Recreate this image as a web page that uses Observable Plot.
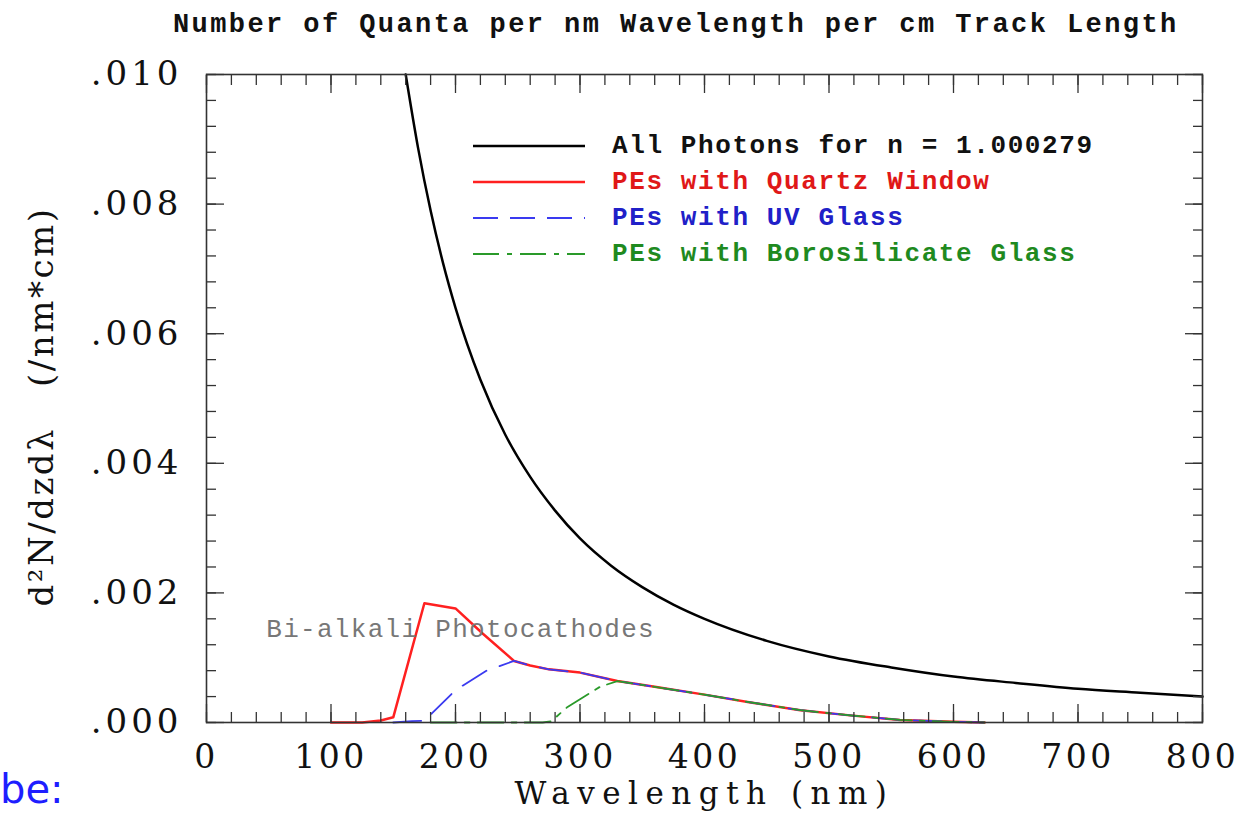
<!DOCTYPE html>
<html><head><meta charset="utf-8">
<script src="https://cdn.jsdelivr.net/npm/d3@7"></script>
<script src="https://cdn.jsdelivr.net/npm/@observablehq/plot@0.6"></script>
<style>
body{margin:0;background:#fff;}
#wrap{position:relative;width:1253px;height:821px;overflow:hidden;background:#fff;}
#title{height:48px;line-height:50px;padding-left:173px;font-family:"Liberation Mono",monospace;font-weight:bold;font-size:27px;letter-spacing:2.42px;color:#111;white-space:pre;}
.leg{position:absolute;left:473px;height:36px;display:flex;align-items:center;font-family:"Liberation Mono",monospace;font-weight:bold;font-size:26px;letter-spacing:1.6px;white-space:pre;}
.leg svg{margin-right:27px;}
#be{position:absolute;left:0;top:766px;font-family:"DejaVu Sans",sans-serif;font-size:40px;color:#1e1eff;}
</style></head>
<body>
<div id="wrap">
  <div id="title">Number of Quanta per nm Wavelength per cm Track Length</div>
  <div id="chart"></div>
  <div id="legend"></div>
  <div id="be">be:</div>
</div>
<script>
// ---- data ----
const allWl   = [160,170,180,190,200,220,240,260,280,300,325,350,375,400,450,500,550,600,650,700,750,800];
const allVal  = [0.0100,0.00886,0.00790,0.00709,0.00640,0.00529,0.00444,0.00379,0.00327,0.00284,0.00242,0.00209,0.00182,0.00160,0.00126,0.00102,0.00085,0.00071,0.00061,0.00052,0.00046,0.00040];

const quartzWl  = [100,125,140,150,175,200,222,247,260,275,300,330];
const quartzVal = [0,0,0.00003,0.00008,0.00184,0.00176,0.00137,0.00095,0.00088,0.00082,0.00077,0.00064];

const uvWl  = [150,165,177,181,200,225,247,260,275,300,330];
const uvVal = [0,0.00002,0.00003,0.00014,0.00050,0.00080,0.00095,0.00088,0.00082,0.00077,0.00064];

const boroWl  = [180,270,277,290,316,330];
const boroVal = [0,0,0.00002,0.00024,0.00055,0.00064];

// common tail shared by the three photoelectron curves
const tailWl  = [360,400,437,477,517,557,600,625];
const tailVal = [0.00055,0.00043,0.00031,0.00019,0.00011,0.00004,0.00001,0];

const seriesNames  = ["All Photons for n = 1.000279","PEs with Quartz Window","PEs with UV Glass","PEs with Borosilicate Glass"];
const seriesColors = ["#000000","#ff2020","#3a3af0","#2a9a2a"];
const textColors   = ["#111111","#e01818","#2020c8","#1f8a1f"];

const xMajorTicks = [0,100,200,300,400,500,600,700,800];
const xMinorTicks = [0,20,40,60,80,100,120,140,160,180,200,220,240,260,280,300,320,340,360,380,400,420,440,460,480,500,520,540,560,580,600,620,640,660,680,700,720,740,760,780,800];
const yMajorTicks = [0,0.002,0.004,0.006,0.008,0.010];
const yMinorTicks = [0,0.0004,0.0008,0.0012,0.0016,0.002,0.0024,0.0028,0.0032,0.0036,0.004,0.0044,0.0048,0.0052,0.0056,0.006,0.0064,0.0068,0.0072,0.0076,0.008,0.0084,0.0088,0.0092,0.0096,0.010];

const annotText = ["Bi-alkali Photocathodes"];
const annotX = [48];
const annotY = [0.00145];

const xLabel = "Wavelength (nm)";
const yLabel = "d²N/dzdλ   (/nm*cm)";

// ---- build tables ----
const toRows = (w, v) => w.map((d, i) => ({wl: d, v: v[i]}));
const allData = toRows(allWl, allVal);
const quartz = toRows(quartzWl.concat(tailWl), quartzVal.concat(tailVal));
const uv = toRows(uvWl.concat(tailWl), uvVal.concat(tailVal));
const boro = toRows(boroWl.concat(tailWl), boroVal.concat(tailVal));
const annot = annotText.map((t, i) => ({t, x: annotX[i], y: annotY[i]}));

const serif = "DejaVu Serif";
const tickStyle = {label: null, tickFormat: () => "", strokeWidth: 1.3, stroke: "#333"};

const plot = Plot.plot({
  width: 1253, height: 773,
  marginLeft: 206, marginRight: 51, marginTop: 26, marginBottom: 99,
  x: {domain: [0, 800], label: null},
  y: {domain: [0, 0.010], label: null},
  style: {background: "transparent", overflow: "visible"},
  marks: [
    Plot.line(allData, {x: "wl", y: "v", stroke: seriesColors[0], strokeWidth: 2.5, curve: "monotone-x"}),
    Plot.line(quartz, {x: "wl", y: "v", stroke: seriesColors[1], strokeWidth: 2.5}),
    Plot.line(uv, {x: "wl", y: "v", stroke: seriesColors[2], strokeWidth: 1.8, strokeDasharray: "28,14"}),
    Plot.line(boro, {x: "wl", y: "v", stroke: seriesColors[3], strokeWidth: 1.8, strokeDasharray: "26,8,5,8"}),
    Plot.text(annot, {x: "x", y: "y", text: "t", textAnchor: "start", fill: "#777", fontSize: 26, fontFamily: "Liberation Mono"}),
    Plot.frame({stroke: "#333", strokeWidth: 1.6}),
    Plot.axisX(xMajorTicks, {anchor: "bottom", tickSize: -18, ...tickStyle}),
    Plot.axisX(xMinorTicks, {anchor: "bottom", tickSize: -10, ...tickStyle}),
    Plot.axisX(xMajorTicks, {anchor: "top", tickSize: -18, ...tickStyle}),
    Plot.axisX(xMinorTicks, {anchor: "top", tickSize: -10, ...tickStyle}),
    Plot.axisY(yMajorTicks, {anchor: "left", tickSize: -18, ...tickStyle}),
    Plot.axisY(yMinorTicks, {anchor: "left", tickSize: -10, ...tickStyle}),
    Plot.axisY(yMajorTicks, {anchor: "right", tickSize: -18, ...tickStyle}),
    Plot.axisY(yMinorTicks, {anchor: "right", tickSize: -10, ...tickStyle}),
    Plot.axisX(xMajorTicks, {anchor: "bottom", tickSize: 0, tickPadding: 22, label: null, fontSize: 33, fontFamily: serif, fill: "#111"}),
    Plot.axisY(yMajorTicks, {anchor: "left", tickSize: 0, tickPadding: 24, label: null, fontSize: 34, fontFamily: serif, fill: "#111",
      tickFormat: d => d.toFixed(3).slice(1)}),
    Plot.text([xLabel], {frameAnchor: "bottom", dy: 81, fontSize: 31, fontFamily: serif, fill: "#111", text: d => d}),
    Plot.text([yLabel], {frameAnchor: "left", textAnchor: "middle", rotate: -90, dx: -164, dy: 8, fontSize: 34, fontFamily: serif, fill: "#111", text: d => d})
  ]
});
document.getElementById("chart").appendChild(plot);

const svg = d3.select(plot);
svg.selectAll("text").filter(function(){ return this.textContent === xLabel; })
  .style("letter-spacing", "7.5px").style("white-space", "pre");
svg.selectAll("text").filter(function(){ return this.textContent === yLabel; })
  .style("letter-spacing", "2.5px").style("white-space", "pre");
svg.selectAll("text").filter(function(){ return /^\.\d{3}$/.test(this.textContent); })
  .style("letter-spacing", "4px");
svg.selectAll("text").filter(function(){ return /^\d{1,3}$/.test(this.textContent); })
  .style("letter-spacing", "3.5px");
svg.selectAll("text").filter(function(){ return this.textContent === annotText[0]; })
  .style("letter-spacing", "1.3px");

// ---- legend ----
const dashes = [null, null, "25,12", "26,8,5,8"];
const widths = [2.5, 2.5, 1.8, 1.8];
const legTops = [128, 164, 200, 236];
const leg = d3.select("#legend");
seriesNames.forEach((name, i) => {
  const row = leg.append("div").attr("class", "leg").style("top", legTops[i] + "px");
  const s = row.append("svg").attr("width", 112).attr("height", 10);
  s.append("line").attr("x1", 0).attr("x2", 112).attr("y1", 5).attr("y2", 5)
    .attr("stroke", seriesColors[i]).attr("stroke-width", widths[i])
    .attr("stroke-dasharray", dashes[i]);
  row.append("span").style("color", textColors[i]).text(name);
});
</script>
</body></html>
